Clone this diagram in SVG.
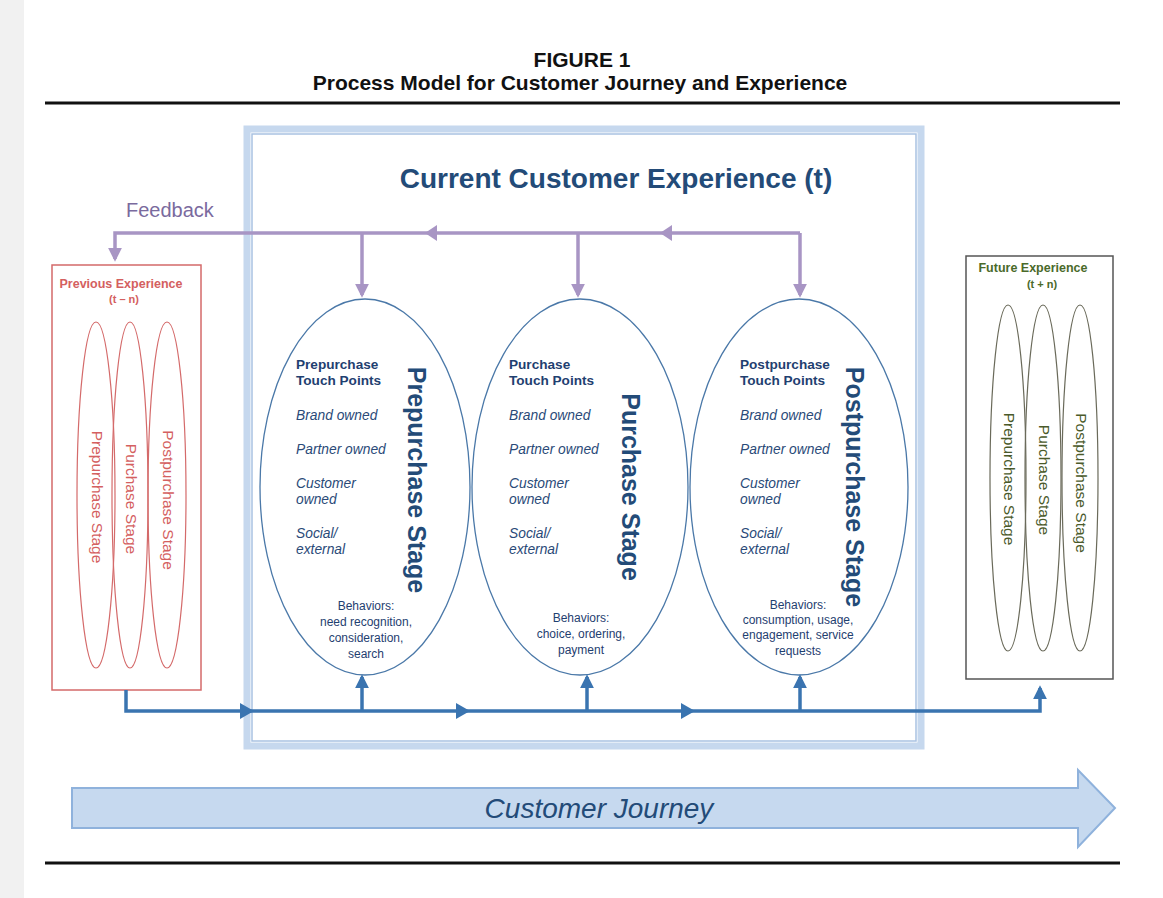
<svg xmlns="http://www.w3.org/2000/svg" width="1163" height="898" viewBox="0 0 1163 898">
<style>
.title{font-family:"Liberation Sans",Arial,sans-serif;font-weight:bold;font-size:21px;fill:#111;text-anchor:middle}
.tp{font-family:"Liberation Sans",Arial,sans-serif;font-weight:bold;font-size:13.6px;fill:#1f4070}
.it{font-family:"Liberation Sans",Arial,sans-serif;font-style:italic;font-size:13.8px;fill:#2a4a78}
.beh{font-family:"Liberation Sans",Arial,sans-serif;font-size:12px;fill:#1f4070;text-anchor:middle}
.vstage{font-family:"Liberation Sans",Arial,sans-serif;font-weight:bold;font-size:25px;fill:#234b78;text-anchor:middle}
.ell{fill:none;stroke:#4a78a8;stroke-width:1.3}
.redt{font-family:"Liberation Sans",Arial,sans-serif;font-size:15.5px;fill:#d46060;text-anchor:middle}
.grnt{font-family:"Liberation Sans",Arial,sans-serif;font-size:15.5px;fill:#4a5a2a;text-anchor:middle}
.fb{fill:none;stroke:#a895c4;stroke-width:3.5}
.flow{fill:none;stroke:#3a74b0;stroke-width:3.5}
</style>
<defs>
<marker id="ap" viewBox="0 0 10 10" refX="8" refY="5" markerWidth="4" markerHeight="4" orient="auto"><path d="M0,0 L10,5 L0,10 Z" fill="#a895c4"/></marker>
<marker id="ab" viewBox="0 0 10 10" refX="8" refY="5" markerWidth="4" markerHeight="4" orient="auto"><path d="M0,0 L10,5 L0,10 Z" fill="#3a74b0"/></marker>
</defs>
<rect x="0" y="0" width="1163" height="898" fill="#fff"/>
<rect x="0" y="0" width="24" height="898" fill="#f1f1f1"/>

<g id="header">
<text class="title" x="582" y="67">FIGURE 1</text>
<text class="title" x="580" y="90">Process Model for Customer Journey and Experience</text>
<line x1="45" y1="103" x2="1120" y2="103" stroke="#111" stroke-width="3"/>
</g>

<g id="current-frame">
<rect x="247" y="129" width="674" height="617" fill="none" stroke="#c6d8ee" stroke-width="7"/>
<rect x="252" y="134" width="664" height="607" fill="none" stroke="#a9c2e2" stroke-width="1.5"/>
<text x="616" y="188" font-family="Liberation Sans,Arial,sans-serif" font-weight="bold" font-size="28" fill="#234b78" text-anchor="middle">Current Customer Experience (t)</text>
</g>

<g id="previous-experience">
<rect x="52" y="265" width="149" height="425" fill="#fff" stroke="#d46a6a" stroke-width="1.5"/>
<text x="121" y="288" font-family="Liberation Sans,Arial,sans-serif" font-weight="bold" font-size="12.5" fill="#d46060" text-anchor="middle">Previous Experience</text>
<text x="124" y="303" font-family="Liberation Sans,Arial,sans-serif" font-weight="bold" font-size="11" fill="#d46060" text-anchor="middle">(t – n)</text>
<ellipse cx="96" cy="495" rx="19" ry="173" fill="none" stroke="#d46a6a" stroke-width="1.2"/>
<ellipse cx="130" cy="495" rx="18" ry="173" fill="none" stroke="#d46a6a" stroke-width="1.2"/>
<ellipse cx="167" cy="495" rx="19" ry="173" fill="none" stroke="#d46a6a" stroke-width="1.2"/>
<text class="redt" transform="translate(92,497) rotate(90)">Prepurchase Stage</text>
<text class="redt" transform="translate(126,499) rotate(90)">Purchase Stage</text>
<text class="redt" transform="translate(163,500) rotate(90)">Postpurchase Stage</text>
</g>

<g id="future-experience">
<rect x="966" y="256" width="147" height="423" fill="#fff" stroke="#555" stroke-width="1.5"/>
<text x="1033" y="272" font-family="Liberation Sans,Arial,sans-serif" font-weight="bold" font-size="12.5" fill="#4a6a2a" text-anchor="middle">Future Experience</text>
<text x="1042" y="288" font-family="Liberation Sans,Arial,sans-serif" font-weight="bold" font-size="11" fill="#4a6a2a" text-anchor="middle">(t + n)</text>
<ellipse cx="1008" cy="478" rx="18" ry="173" fill="none" stroke="#6a6a5a" stroke-width="1.2"/>
<ellipse cx="1043" cy="478" rx="18" ry="173" fill="none" stroke="#6a6a5a" stroke-width="1.2"/>
<ellipse cx="1080" cy="478" rx="18" ry="173" fill="none" stroke="#6a6a5a" stroke-width="1.2"/>
<text class="grnt" transform="translate(1004,479) rotate(90)">Prepurchase Stage</text>
<text class="grnt" transform="translate(1039,480) rotate(90)">Purchase Stage</text>
<text class="grnt" transform="translate(1076,483) rotate(90)">Postpurchase Stage</text>
</g>

<g id="prepurchase-stage">
<ellipse class="ell" cx="365" cy="487" rx="105" ry="188" fill="#fff"/>
<text class="tp" x="296" y="369">Prepurchase</text>
<text class="tp" x="296" y="385">Touch Points</text>
<text class="it" x="296" y="420">Brand owned</text>
<text class="it" x="296" y="454">Partner owned</text>
<text class="it" x="296" y="488">Customer</text>
<text class="it" x="296" y="504">owned</text>
<text class="it" x="296" y="538">Social/</text>
<text class="it" x="296" y="554">external</text>
<text class="vstage" transform="translate(408,480) rotate(90)">Prepurchase Stage</text>
<text class="beh" x="366" y="610">Behaviors:</text>
<text class="beh" x="366" y="626">need recognition,</text>
<text class="beh" x="366" y="642">consideration,</text>
<text class="beh" x="366" y="658">search</text>
</g>

<g id="purchase-stage">
<ellipse class="ell" cx="580" cy="487" rx="108" ry="188" fill="#fff"/>
<text class="tp" x="509" y="369">Purchase</text>
<text class="tp" x="509" y="385">Touch Points</text>
<text class="it" x="509" y="420">Brand owned</text>
<text class="it" x="509" y="454">Partner owned</text>
<text class="it" x="509" y="488">Customer</text>
<text class="it" x="509" y="504">owned</text>
<text class="it" x="509" y="538">Social/</text>
<text class="it" x="509" y="554">external</text>
<text class="vstage" transform="translate(622,487) rotate(90)">Purchase Stage</text>
<text class="beh" x="581" y="622">Behaviors:</text>
<text class="beh" x="581" y="638">choice, ordering,</text>
<text class="beh" x="581" y="654">payment</text>
</g>

<g id="postpurchase-stage">
<ellipse class="ell" cx="799" cy="487" rx="109" ry="188" fill="#fff"/>
<text class="tp" x="740" y="369">Postpurchase</text>
<text class="tp" x="740" y="385">Touch Points</text>
<text class="it" x="740" y="420">Brand owned</text>
<text class="it" x="740" y="454">Partner owned</text>
<text class="it" x="740" y="488">Customer</text>
<text class="it" x="740" y="504">owned</text>
<text class="it" x="740" y="538">Social/</text>
<text class="it" x="740" y="554">external</text>
<text class="vstage" transform="translate(846,487) rotate(90)">Postpurchase Stage</text>
<text class="beh" x="798" y="609">Behaviors:</text>
<text class="beh" x="798" y="624">consumption, usage,</text>
<text class="beh" x="798" y="639">engagement, service</text>
<text class="beh" x="798" y="655">requests</text>
</g>

<g id="connectors">
<text x="126" y="217" font-family="Liberation Sans,Arial,sans-serif" font-size="20" fill="#7a6a9e">Feedback</text>
<polyline class="fb" points="800,233 115,233 115,259" marker-end="url(#ap)"/>
<line class="fb" x1="800" y1="233" x2="800" y2="295" marker-end="url(#ap)"/>
<line class="fb" x1="578" y1="233" x2="578" y2="295" marker-end="url(#ap)"/>
<line class="fb" x1="362" y1="233" x2="362" y2="295" marker-end="url(#ap)"/>
<path d="M672,225 L660,233 L672,241 Z" fill="#a895c4"/>
<path d="M437,225 L425,233 L437,241 Z" fill="#a895c4"/>

<polyline class="flow" points="126,690 126,711 1040,711 1040,688" marker-end="url(#ab)"/>
<line class="flow" x1="362" y1="711" x2="362" y2="677" marker-end="url(#ab)"/>
<line class="flow" x1="587" y1="711" x2="587" y2="677" marker-end="url(#ab)"/>
<line class="flow" x1="800" y1="711" x2="800" y2="677" marker-end="url(#ab)"/>
<path d="M240,703 L254,711 L240,719 Z" fill="#3a74b0"/>
<path d="M456,703 L470,711 L456,719 Z" fill="#3a74b0"/>
<path d="M681,703 L695,711 L681,719 Z" fill="#3a74b0"/>
</g>

<g id="customer-journey">
<path d="M72,788 L1078,788 L1078,770 L1115,808 L1078,847 L1078,828 L72,828 Z" fill="#c6d9ef" stroke="#8fb2dc" stroke-width="2"/>
<text x="599" y="818" font-family="Liberation Sans,Arial,sans-serif" font-style="italic" font-size="28" fill="#234b78" text-anchor="middle">Customer Journey</text>
</g>

<line x1="45" y1="863" x2="1120" y2="863" stroke="#111" stroke-width="3"/>
</svg>
